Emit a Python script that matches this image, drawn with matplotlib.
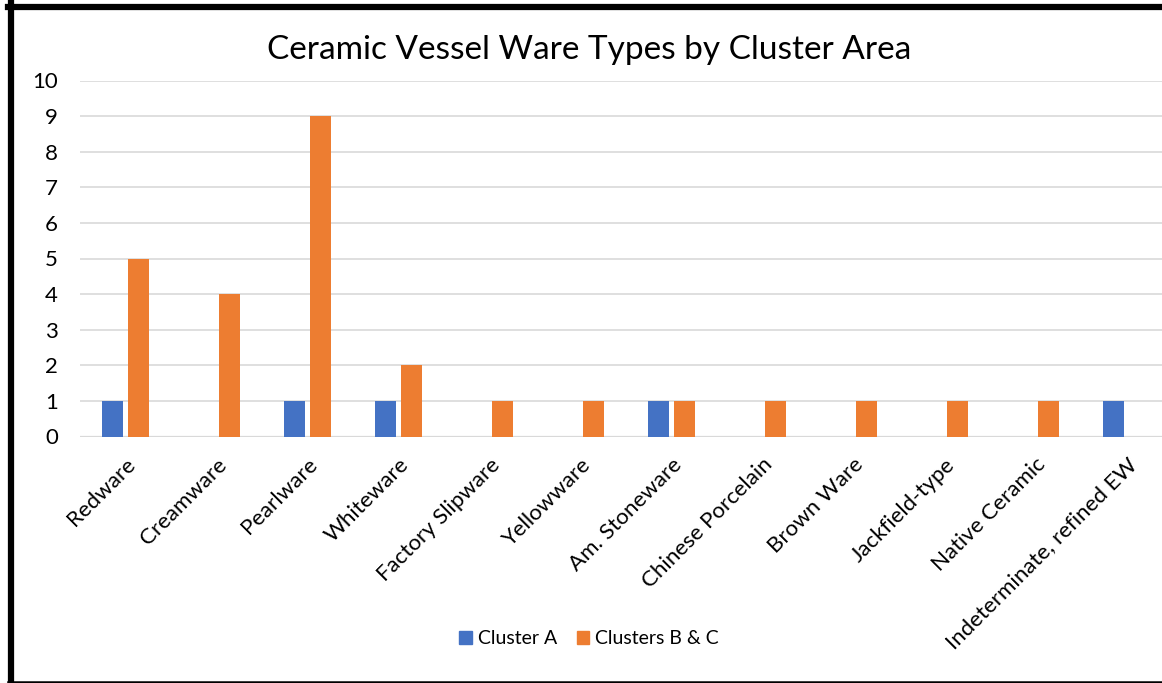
import matplotlib
matplotlib.use("Agg")
import matplotlib.pyplot as plt
import numpy as np
from matplotlib.lines import Line2D
from matplotlib.patches import Patch

plt.rcParams["font.family"] = ["Lato", "DejaVu Sans"]

categories = [
    "Redware", "Creamware", "Pearlware", "Whiteware", "Factory Slipware",
    "Yellowware", "Am. Stoneware", "Chinese Porcelain", "Brown Ware",
    "Jackfield-type", "Native Ceramic", "Indeterminate, refined EW",
]
cluster_a = [1, 0, 1, 1, 0, 0, 1, 0, 0, 0, 0, 1]
clusters_bc = [5, 4, 9, 2, 1, 1, 1, 1, 1, 1, 1, 0]
yticks = list(range(0, 11))

BLUE = "#4472C4"
ORANGE = "#ED7D31"
W, H = 1162, 683

fig = plt.figure(figsize=(W / 100, H / 100), dpi=100)
ax = fig.add_axes([80 / W, (H - 436.5) / H, 91 * 12 / W, 356 / H])

x = np.arange(len(categories))
bw = 0.227
off = 0.141
ax.bar(x - off, cluster_a, bw, color=BLUE, zorder=3)
ax.bar(x + off, clusters_bc, bw, color=ORANGE, zorder=3)

ax.set_xlim(-0.5, len(categories) - 0.5)
ax.set_ylim(0, 10)
ax.set_yticks(yticks)
ax.yaxis.grid(True, color="#d9d9d9", linewidth=1.2, zorder=0)
ax.axhline(0, color="#d9d9d9", linewidth=1.6, zorder=2)
for s in ax.spines.values():
    s.set_visible(False)
ax.tick_params(length=0, labelsize=16)
ax.tick_params(axis="y", pad=16)
ax.tick_params(axis="x", pad=13)
ax.set_xticks(x)
ax.set_xticklabels(categories, rotation=45, ha="right", rotation_mode="anchor")

fig.text(589 / W, 1 - 50 / H, "Ceramic Vessel Ware Types by Cluster Area",
         ha="center", va="center", fontsize=24)

handles = [Patch(color=BLUE, label="Cluster A"), Patch(color=ORANGE, label="Clusters B & C")]
fig.legend(handles=handles, loc="center", bbox_to_anchor=(589 / W, 1 - 639 / H), ncol=2,
           frameon=False, fontsize=14, handlelength=0.65, handleheight=0.65,
           handletextpad=0.3, columnspacing=1.0)

# black border lines (left, top, bottom)
fig.add_artist(Line2D([10.5 / W, 10.5 / W], [0, 1 - 3 / H], color="black", linewidth=4.5,
                      transform=fig.transFigure))
fig.add_artist(Line2D([8 / W, 1], [1 - 6.5 / H, 1 - 6.5 / H], color="black", linewidth=4.5,
                      transform=fig.transFigure))
fig.add_artist(Line2D([8 / W, 1], [1.2 / H, 1.2 / H], color="black", linewidth=1.8,
                      transform=fig.transFigure))

fig.savefig("out.png", dpi=100)
